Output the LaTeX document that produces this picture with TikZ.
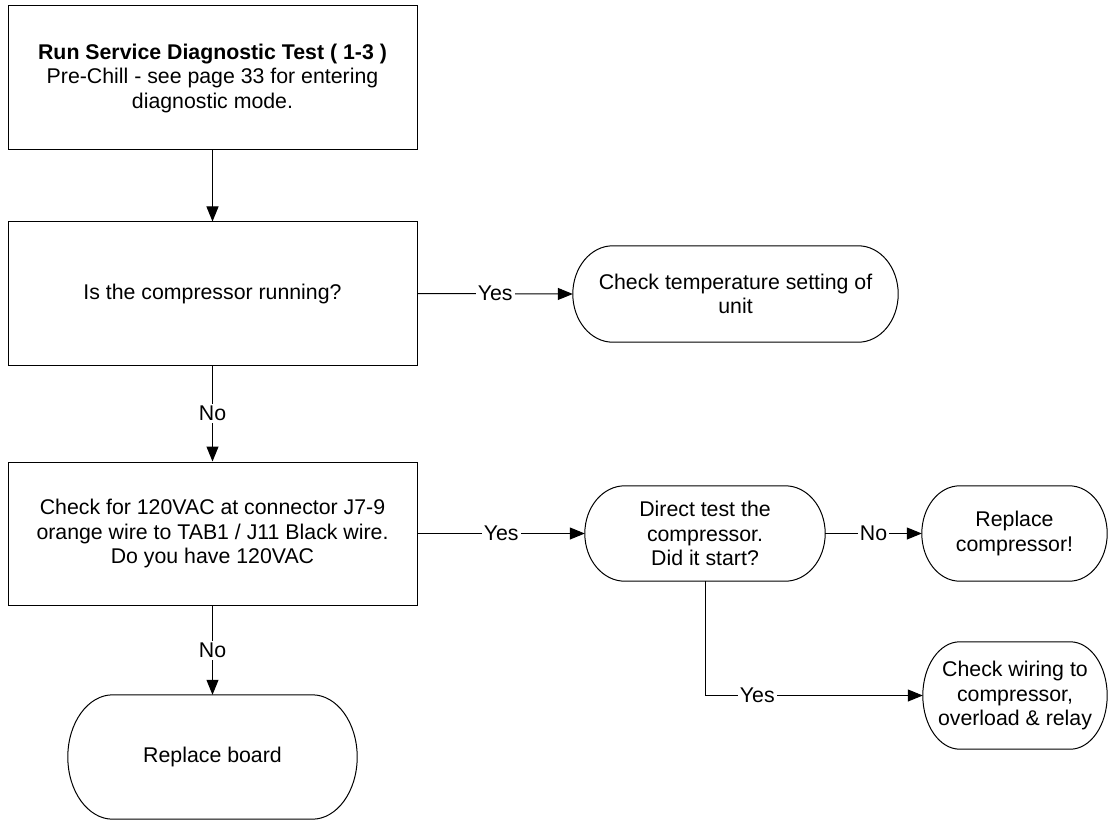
\documentclass[tikz,border=0pt]{standalone}
\usepackage{fontspec}
\setmainfont{Liberation Sans}
\usetikzlibrary{arrows.meta,calc}
\newcommand\termoutline[2]{%
  \draw[shapeline] let \p1=(#1.north west), \p2=(#1.south east), \n1={(\y1-\y2)/2} in
    (\x1+#2pt,\y1) -- (\x2-#2pt,\y1)
    arc[start angle=90,end angle=-90,x radius=#2pt,y radius=\n1]
    -- (\x1+#2pt,\y2)
    arc[start angle=270,end angle=90,x radius=#2pt,y radius=\n1] -- cycle;}
\begin{document}
\begin{tikzpicture}[x=1pt,y=-1pt,
  txt/.style={font=\fontsize{21.3}{24.5}\selectfont},
  shapeline/.style={draw=black,line width=1pt},
  box/.style={txt,shapeline,minimum width=409pt,minimum height=143pt,inner sep=0pt,align=center},
  term/.style={txt,draw=none,inner sep=0pt,align=center},
  arr/.style={line width=1pt,-{Triangle[length=15pt,width=12pt]}},
  lbl/.style={txt,fill=white,inner sep=2pt}]
\useasboundingbox (0,0) rectangle (1108,821);
\node[box,minimum height=144pt] (b1) at (212.5,78) {\textbf{Run Service Diagnostic Test ( 1-3 )}\\Pre-Chill - see page 33 for entering\\diagnostic mode.};
\node[box] (b2) at (212.5,293.5) {Is the compressor running?};
\node[box] (b3) at (212.5,533.5) {Check for 120VAC at connector J7-9\\orange wire to TAB1 / J11 Black wire.\\Do you have 120VAC};
\node[term,minimum width=289pt,minimum height=124pt] (rb) at (212.5,757) {Replace board};
\node[term,minimum width=325pt,minimum height=96pt] (ct) at (735.5,294) {Check temperature setting of\\unit};
\node[term,minimum width=240pt,minimum height=95pt] (dt) at (705,533.5) {Direct test the\\compressor.\\Did it start?};
\node[term,minimum width=185pt,minimum height=95pt] (rc) at (1014.5,533.5) {Replace\\compressor!};
\node[term,minimum width=184pt,minimum height=107pt] (cw) at (1015,695.5) {Check wiring to\\compressor,\\overload \& relay};
\termoutline{rb}{45}
\termoutline{ct}{40}
\termoutline{dt}{40}
\termoutline{rc}{38}
\termoutline{cw}{37}
\draw[arr] (b1.south) -- (b2.north);
\draw[arr] (b2.south) -- node[lbl]{No} (b3.north);
\draw[arr] (b3.south) -- node[lbl]{No} (rb.north);
\draw[arr] (b2.east) -- node[lbl]{Yes} (ct.west);
\draw[arr] (b3.east) -- node[lbl]{Yes} (dt.west);
\draw[arr] (dt.east) -- node[lbl]{No} (rc.west);
\draw[arr] (dt.south) |- node[lbl,pos=0.62]{Yes} (cw.west);
\end{tikzpicture}
\end{document}
